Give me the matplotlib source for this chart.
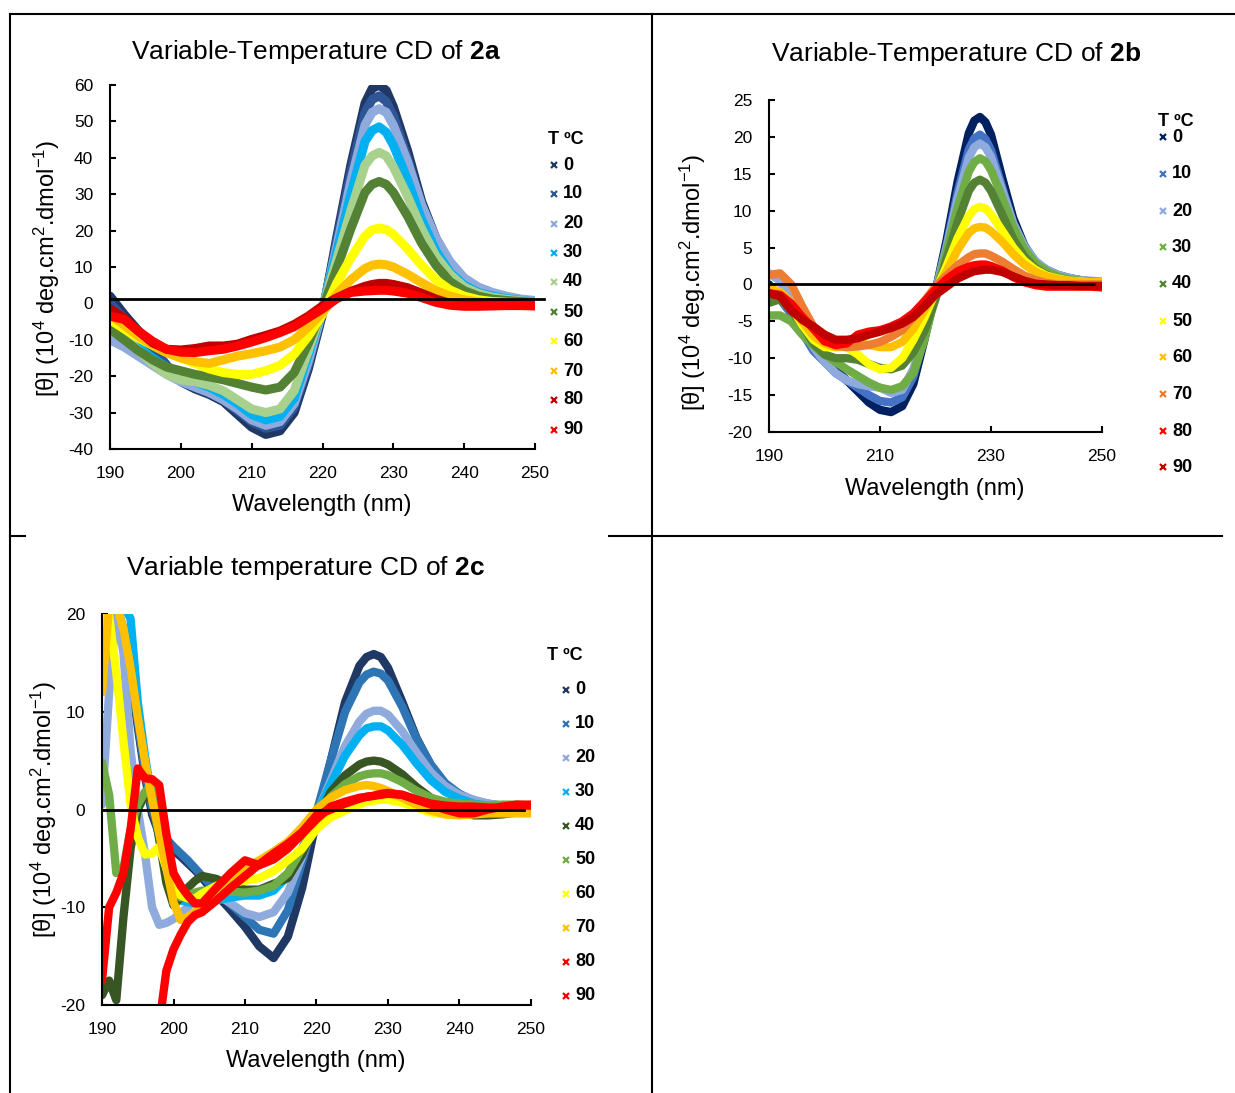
import numpy as np
import matplotlib.pyplot as plt
from matplotlib.lines import Line2D

plt.rcParams['font.family'] = ['Liberation Sans', 'DejaVu Sans']
plt.rcParams['mathtext.fontset'] = 'custom'
plt.rcParams['mathtext.rm'] = 'Liberation Sans'
plt.rcParams['mathtext.it'] = 'Liberation Sans:italic'
plt.rcParams['mathtext.bf'] = 'Liberation Sans:bold'
plt.rcParams['axes.unicode_minus'] = False

nan = np.nan
temps = ["0", "10", "20", "30", "40", "50", "60", "70", "80", "90"]

# ---- 2a ----
wl_ab = [190, 192, 194, 196, 198, 200, 202, 204, 206, 208, 210, 212, 214, 216, 218, 220, 222, 224, 226,
         227, 228, 229, 230, 232, 234, 236, 238, 240, 242, 244, 246, 248, 250]
a_0 = [2, -3, -7.5, -12, -17, -21.5, -23.5, -25, -27, -30.5, -34, -36, -35, -30, -18, -3, 18, 38, 55,
       59, 60, 58.5, 54, 42, 28, 18, 11, 6, 3.5, 2.2, 1.5, 1, 0.6]
a_10 = [0, -4, -8, -12.5, -17, -21, -23, -24.5, -26.5, -29.5, -32.5, -34.3, -33.5, -28.5, -17, -2.5, 17, 36, 52.5,
        56, 57, 55.5, 51.5, 40, 27, 17.5, 10.5, 6, 3.5, 2.2, 1.5, 1, 0.5]
a_20 = [-10, -12, -14.5, -17, -19.5, -21.5, -23, -24.5, -26.5, -29, -32, -33.5, -32.5, -27.5, -16, -2, 15.5, 33.5, 49,
        52.5, 53.5, 52.5, 49, 39, 27, 18, 11.5, 7, 4.5, 3, 2, 1.2, 0.8]
a_30 = [-6, -9, -12, -15, -17.5, -19.5, -21.5, -23, -25, -27.5, -30.5, -32, -31, -26, -14, -1.5, 14, 30, 44.5,
        47.5, 48.5, 47, 43.5, 34, 23, 14.5, 8.5, 5, 3, 2, 1.3, 0.8, 0.4]
a_40 = [-5, -9, -13, -16.5, -19.5, -21, -21.5, -22.5, -24, -26.5, -29, -30, -29, -24, -13, -1.5, 12, 25.5, 38,
        40.5, 41.5, 40.5, 37.5, 29.5, 20.5, 13, 8, 4.5, 2.7, 1.7, 1.1, 0.7, 0.4]
a_50 = [-7, -10, -13, -15.5, -17.5, -18.5, -19.5, -20.2, -21, -22, -23, -23.8, -23, -19, -11, -1.5, 9.5, 20.5, 30.5,
        32.7, 33.5, 32.7, 30.5, 24, 16.5, 10.5, 6, 3.5, 2, 1.2, 0.8, 0.5, 0.3]
a_60 = [-4.5, -7, -9.5, -11.5, -13.5, -15, -16.5, -18, -19, -19.5, -19.5, -18.5, -17, -14, -9, -3, 5.5, 12.5, 18.5,
        20.2, 20.7, 20.3, 19, 15, 10.5, 6.5, 3.7, 2, 1, 0.5, 0.3, 0.2, 0]
a_70 = [-3, -6, -9, -11.5, -13.5, -15, -16, -16.5, -15.5, -14.5, -13.8, -13, -12, -10, -6.5, -2.5, 2.5, 6.5, 9.6,
        10.5, 10.8, 10.6, 10, 8, 5.7, 3.5, 2, 1, 0.4, 0.2, 0, 0, 0]
a_80 = [-1.5, -4, -7.6, -10.8, -12.6, -12.8, -12.4, -11.7, -11.7, -11.2, -9.9, -8.8, -7.6, -5.8, -3.5, -0.7, 1.5, 3.3, 4.7,
        5.2, 5.5, 5.5, 5.2, 4.3, 2.8, 1.2, 0, -0.5, -0.5, -0.4, -0.3, -0.3, -0.3]
a_90 = [-3.5, -4.4, -7.6, -10.4, -12.6, -13.4, -13.5, -13, -12.6, -11.7, -10.6, -9.4, -8, -6.4, -3.9, -1.5, 1.3, 3, 3.4,
        3.5, 3.6, 3.6, 3.4, 2.8, 1.6, 0.3, -0.5, -0.8, -0.8, -0.7, -0.6, -0.6, -0.7]
colors_a = ["#203864", "#2f5597", "#8faadc", "#00b0f0", "#a9d18e", "#548235", "#ffff00", "#ffc000", "#c00000", "#ff0000"]

# ---- 2b ----
b_0 = [0, -2, -3.5, -6, -8.5, -10, -11.5, -13, -14.5, -16, -17, -17.3, -16.5, -13.5, -7.5, -1, 6, 14, 20.5,
       22.2, 22.7, 22, 20.3, 14.5, 9, 5.3, 3, 2, 1.3, 0.9, 0.6, 0.4, 0.3]
b_10 = [-0.5, -2, -4, -6.5, -9, -10.5, -12, -13, -14, -15, -15.8, -16, -15.3, -12.5, -7, -1, 5.3, 12.5, 18.3,
        19.8, 20.3, 19.7, 18.2, 13.2, 8.3, 5, 3, 1.9, 1.2, 0.8, 0.6, 0.4, 0.3]
b_20 = [1.5, 0.5, -2.5, -5.5, -8.5, -10.5, -12, -13, -13.5, -13.8, -14, -14.7, -14.3, -11.5, -6.5, -1, 5, 11.7, 17.2,
        18.6, 19.1, 18.6, 17.3, 12.8, 8.3, 5.2, 3.2, 2, 1.3, 0.9, 0.6, 0.5, 0.4]
b_30 = [-4.2, -4.2, -5, -6.8, -8.3, -9.5, -10.5, -11.5, -12.4, -13.3, -14, -14.3, -13.8, -12, -7.5, -1.5, 4.5, 10.5, 15.3,
        16.6, 17.1, 16.7, 15.5, 11.8, 7.8, 4.8, 2.9, 1.8, 1.1, 0.7, 0.5, 0.4, 0.3]
b_40 = [-2.5, -2, -3.5, -5.5, -8, -9.5, -10, -10, -10.2, -10.8, -11.3, -11.5, -11, -9.2, -6.3, -2, 3.5, 8.5, 12.7,
        13.8, 14.2, 13.8, 12.7, 9.5, 6.2, 3.8, 2.2, 1.3, 0.8, 0.5, 0.3, 0.2, 0.2]
b_50 = [-0.5, -1.5, -3, -5.5, -7.5, -8.5, -8.5, -8.5, -9.5, -10.8, -11.5, -11.3, -10, -7.5, -4.5, -1, 2.5, 6.3, 9.3,
        10.2, 10.5, 10.3, 9.5, 7.3, 5, 3.2, 2, 1.2, 0.8, 0.5, 0.4, 0.3, 0.3]
b_60 = [-0.5, -1, -2.5, -5, -7, -8, -8.5, -8.3, -8, -8.2, -8.5, -8.5, -7.8, -6, -3.5, -1, 1.8, 4.7, 7,
        7.6, 7.8, 7.7, 7.2, 5.8, 4.1, 2.7, 1.7, 1.1, 0.7, 0.5, 0.4, 0.3, 0.3]
b_70 = [1.3, 1.5, 0, -3, -5.7, -7.5, -8.3, -8.5, -8.4, -8.2, -7.8, -7.1, -6.2, -4.4, -2.3, -0.3, 1.2, 2.6, 3.7,
        4.1, 4.2, 4.2, 3.9, 3.1, 2.1, 1.2, 0.6, 0.2, 0, 0, 0, 0, 0]
b_80 = [-1.2, -1.4, -2.6, -4.4, -6, -7.7, -8.2, -8, -6.8, -6.4, -6.2, -5.7, -5, -3.9, -2.3, -0.7, 0.7, 1.8, 2.4,
        2.6, 2.7, 2.7, 2.5, 1.9, 1, 0.3, -0.1, -0.3, -0.3, -0.3, -0.3, -0.3, -0.4]
b_90 = [-1.2, -1.6, -3.5, -4.8, -5.7, -6.8, -7.5, -7.5, -7.3, -6.8, -6.4, -5.9, -5.3, -4.4, -3, -1.4, -0.3, 0.8, 1.5,
        1.8, 1.9, 2, 2, 1.7, 1.1, 0.5, 0.1, 0, -0.1, -0.1, -0.2, -0.2, -0.2]
colors_b = ["#002060", "#4472c4", "#8faadc", "#70ad47", "#548235", "#ffff00", "#ffc000", "#ed7d31", "#ff0000", "#c00000"]

# ---- 2c ----
wl_c = [190, 191, 192, 193, 194, 195, 196, 197, 198, 199, 200, 201, 202, 203, 204,
        206, 208, 210, 212, 214, 216, 218, 220, 222, 224, 226,
        227, 228, 229, 230, 232, 234, 236, 238, 240, 242, 244, 246, 248, 250]
c_0 = [nan, nan, 20.5, 18, 13.5, 8.5, 3.5, -0.5, -2.5, -3.5, -4.2, -4.8, -5.5, -6.2, -7,
       -8.7, -10.3, -12, -14, -15.2, -13, -8, -1, 5, 11, 14.7,
       15.6, 15.9, 15.6, 14.5, 11, 7.3, 4.5, 2.5, 1.4, 0.8, 0.5, 0.3, 0.2, 0.2]
c_10 = [nan, nan, 21, 18.5, 14, 9, 4, 0, -2, -3, -3.8, -4.5, -5.2, -6, -6.8,
        -8.3, -9.7, -11, -12.3, -12.7, -10.3, -5.3, -0.3, 5, 10, 13,
        13.8, 14.1, 13.9, 13.2, 10.5, 7.2, 4.6, 2.7, 1.6, 0.9, 0.6, 0.4, 0.3, 0.2]
c_20 = [0.5, 12, 20.5, 16, 6, 0, -4.5, -10, -11.8, -11.6, -11.2, -10.6, -10, -9.2, -8.6,
        -8.7, -9.6, -10.6, -11, -10.5, -8.5, -4.8, -0.5, 3, 6.5, 9,
        9.8, 10.1, 10.1, 9.7, 8, 5.8, 3.8, 2.4, 1.5, 1, 0.6, 0.4, 0.3, 0.2]
c_30 = [nan, nan, nan, 21, 19.5, 11, 5.5, 1, -3, -6.5, -8.5, -9.3, -9.5, -9.6, -9.5,
        -9.3, -9, -8.8, -8.8, -8.3, -6.8, -4, -0.5, 2.6, 5.5, 7.6,
        8.3, 8.5, 8.5, 8.1, 6.6, 4.7, 3, 1.8, 1.1, 0.6, 0.4, 0.3, 0.2, 0.2]
c_40 = [-19, -17.5, -19.5, -11, -4, 0, 1.5, 1, -3, -7.5, -9.8, -9, -8, -7.3, -6.8,
        -7.1, -7.8, -8.2, -8.2, -7.6, -7, -4.6, -1, 1.8, 3.5, 4.6,
        4.9, 5, 4.9, 4.6, 3.6, 2.3, 1.2, 0.3, -0.3, -0.6, -0.6, -0.5, -0.3, -0.2]
c_50 = [4.8, 1.5, -6.5, -6, -2, 0.5, 1.8, 2.5, 0, -4.5, -8, -9, -8.8, -8.5, -8.3,
        -8.3, -8.4, -8.5, -8.3, -7.8, -6.5, -4, -1, 1.3, 2.6, 3.4,
        3.6, 3.7, 3.7, 3.5, 2.8, 1.9, 1.2, 0.8, 0.6, 0.5, 0.4, 0.5, 0.5, 0.4]
c_60 = [19.5, 19.8, 14, 7, 0.5, -2.8, -4.6, -4.5, -3.8, -6, -8, -8.8, -9.1, -9.1, -8.6,
        -7.8, -7.5, -7.3, -7, -6.3, -5.2, -4, -2, -0.8, -0.1, 0.5,
        0.8, 0.9, 1, 1, 0.7, 0.2, -0.3, -0.5, -0.5, -0.4, -0.3, -0.2, -0.1, 0]
c_70 = [12, 21, 21, 18.5, 14.5, 9.5, 5, 1, -2.5, -6, -9.5, -11.3, -11, -10.5, -9.8,
        -8.5, -7.3, -6, -5.2, -4.3, -3.3, -1.8, 0, 1.2, 2, 2.4,
        2.5, 2.4, 2.2, 1.9, 1.2, 0.5, -0.1, -0.5, -0.6, -0.5, -0.4, -0.4, -0.4, -0.4]
c_80 = [-17.5, -10, -8.5, -6.5, -2, 4.2, 3.2, 3.1, 2.5, -2.5, -6.5, -7.8, -8.8, -9.6, -9.6,
        -8, -6.5, -5.2, -5.7, -5.1, -4, -2.5, -1, 0.3, 0.8, 1.2,
        1.3, 1.4, 1.5, 1.6, 1.5, 1, 0.5, 0, -0.4, -0.4, 0, 0.3, 0.5, 0.5]
c_90 = [nan, nan, nan, nan, nan, nan, nan, nan, -22, -16.5, -14.3, -12.8, -11.5, -10.8, -10.5,
        -9.3, -8, -6.8, -5.6, -4.5, -3.5, -2.3, -0.6, 0, 0.6, 1.1,
        1.3, 1.4, 1.6, 1.7, 1.5, 1, 0.6, 0.4, 0.3, 0.3, 0.2, 0.2, 0.4, 0.4]
colors_c = ["#1f3864", "#2e75b6", "#8faadc", "#00b0f0", "#375623", "#70ad47", "#ffff00", "#ffc000", "#ff0000", "#ff0000"]

W, H = 1235, 1093
fig = plt.figure(figsize=(W / 100, H / 100), dpi=100)


def fx(px):
    return px / W


def fy(py):
    return 1 - py / H


def hline(x0, x1, y):
    fig.add_artist(Line2D([fx(x0), fx(x1)], [fy(y), fy(y)], color="black", lw=1.5, transform=fig.transFigure))


def vline(x, y0, y1):
    fig.add_artist(Line2D([fx(x), fx(x)], [fy(y0), fy(y1)], color="black", lw=1.5, transform=fig.transFigure))


# table borders
hline(10, 1235, 14)
vline(10, 14, 1093)
vline(652, 14, 1093)
hline(10, 25, 536)
hline(609, 1222, 536)

ylab = r"[θ] (10$^{4}$ deg.cm$^{2}$.dmol$^{-1}$)"


def panel(box, wl, series, colors, ylim, xticks, yticks, zero_y, zero_end, lw,
          title, title_xy, xlab_xy, ylab_xy, leg_head, leg_ys, leg_mx, leg_tx):
    left, top, right, bottom = box
    ax = fig.add_axes([fx(left), fy(bottom), (right - left) / W, (bottom - top) / H])
    for vals, c in zip(series, colors):
        ax.plot(wl, vals, color=c, lw=lw, solid_joinstyle="round", solid_capstyle="round")
    ax.plot([190, zero_end], [zero_y, zero_y], color="black", lw=2, clip_on=False, zorder=5)
    ax.set_xlim(190, 250)
    ax.set_ylim(*ylim)
    ax.set_xticks(xticks)
    ax.set_yticks(yticks)
    for s in ["top", "right"]:
        ax.spines[s].set_visible(False)
    for s in ["left", "bottom"]:
        ax.spines[s].set_linewidth(1.5)
    ax.tick_params(direction="in", length=4, width=1.5, labelsize=12.5, pad=12)
    fig.text(fx(title_xy[0]), fy(title_xy[1]), title, fontsize=19, ha="center", va="center")
    fig.text(fx(xlab_xy[0]), fy(xlab_xy[1]), "Wavelength (nm)", fontsize=17, ha="center", va="center")
    fig.text(fx(ylab_xy[0]), fy(ylab_xy[1]), ylab, fontsize=17, ha="center", va="center", rotation=90)
    fig.text(fx(leg_head[0]), fy(leg_head[1]), "T ºC", fontsize=13, fontweight="bold", ha="left", va="center")
    for t, c, y in zip(temps, colors, leg_ys):
        fig.add_artist(Line2D([fx(leg_mx)], [fy(y)], marker="x", color=c, ms=4.5, mew=1.6, ls="none",
                              transform=fig.transFigure))
        fig.text(fx(leg_tx), fy(y), t, fontsize=13, fontweight="bold", ha="left", va="center")
    return ax


panel((110, 85, 535, 449), wl_ab, [a_0, a_10, a_20, a_30, a_40, a_50, a_60, a_70, a_80, a_90], colors_a,
      (-40, 60), range(190, 251, 10), range(-40, 61, 10), 1.1, 251.2, 6.5,
      r"Variable-Temperature CD of $\mathbf{2a}$", (316, 52), (322, 505), (47, 268),
      (548, 139), [165, 194, 224, 253, 282, 312, 341, 371, 400, 430], 554, 563)

panel((769, 100, 1102, 432), wl_ab, [b_0, b_10, b_20, b_30, b_40, b_50, b_60, b_70, b_80, b_90], colors_b,
      (-20, 25), [190, 210, 230, 250], range(-20, 26, 5), 0, 248.6, 6,
      r"Variable-Temperature CD of $\mathbf{2b}$", (956, 54), (935, 489), (693, 282),
      (1158, 121), [137, 174, 211, 247, 284, 321, 357, 394, 431, 467], 1163, 1172)

panel((102, 614, 531, 1005), wl_c, [c_0, c_10, c_20, c_30, c_40, c_50, c_60, c_70, c_80, c_90], colors_c,
      (-20, 20), range(190, 251, 10), [-20, -10, 0, 10, 20], 0, 249, 6,
      r"Variable temperature CD of $\mathbf{2c}$", (305, 568), (316, 1061), (44, 809),
      (547, 656), [690, 724, 758, 792, 826, 860, 894, 928, 962, 996], 566, 575)

fig.savefig("out.png", dpi=100)
